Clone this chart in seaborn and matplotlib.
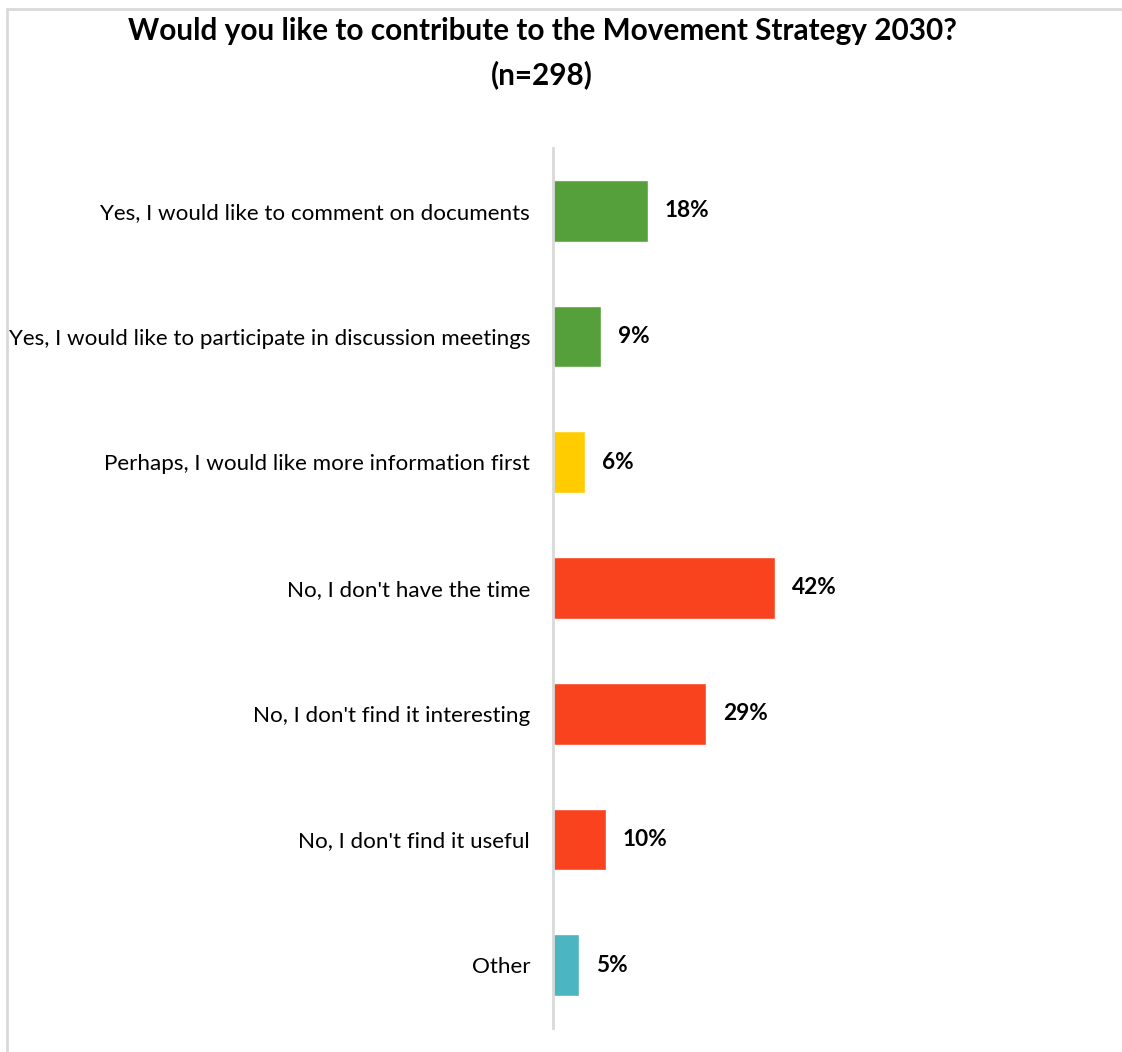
import matplotlib
matplotlib.use("Agg")
import pandas as pd
import matplotlib.pyplot as plt
import seaborn as sns
from matplotlib.lines import Line2D

# data
categories = [
    "Yes, I would like to comment on documents",
    "Yes, I would like to participate in discussion meetings",
    "Perhaps, I would like more information first",
    "No, I don't have the time",
    "No, I don't find it interesting",
    "No, I don't find it useful",
    "Other",
]
percent = [18, 9, 6, 42, 29, 10, 5]
bar_colors = ["#55A03A", "#55A03A", "#FFCC00", "#F9431F", "#F9431F", "#F9431F", "#4BB5C1"]
title = "Would you like to contribute to the Movement Strategy 2030?\n(n=298)"

df = pd.DataFrame({"answer": categories, "pct": percent})

sns.set_style("white")
plt.rcParams["font.family"] = ["Lato", "DejaVu Sans"]
plt.rcParams["text.color"] = "black"

W, H = 1122, 1052
fig = plt.figure(figsize=(W / 100, H / 100), dpi=100)
ax = fig.add_axes([553 / W, 1 - 1028 / H, (1100 - 553) / W, (1028 - 148) / H])

sns.barplot(data=df, x="pct", y="answer", hue="answer", palette=bar_colors,
            orient="h", width=0.49, legend=False, ax=ax, saturation=1)

ax.set_xlim(0, (1100 - 553) / 5.28)
ax.set_xlabel("")
ax.set_ylabel("")
ax.set_xticks([])
ax.tick_params(axis="y", length=0, pad=16.5, labelsize=16.1, labelcolor="black")
for s in ["top", "right", "bottom"]:
    ax.spines[s].set_visible(False)
ax.spines["left"].set_color("#d9d9d9")
ax.spines["left"].set_linewidth(2)

for p, v in zip(ax.patches, percent):
    ax.text(p.get_width() + 17 / 5.28, p.get_y() + p.get_height() / 2,
            f"{v}%", va="center", ha="left", fontsize=16.3, fontweight="bold",
            color="black")

fig.text(542 / W, 1 - 53 / H, title, ha="center", va="center",
         fontsize=21.4, fontweight="bold", linespacing=1.6, color="black")

# chart frame (only left and top visible)
fig.add_artist(Line2D([7 / W, 7 / W], [0, 1 - 9 / H], transform=fig.transFigure,
                      color="#d9d9d9", lw=2))
fig.add_artist(Line2D([7 / W, 1], [1 - 9 / H, 1 - 9 / H], transform=fig.transFigure,
                      color="#d9d9d9", lw=2))

fig.savefig("out.png", dpi=100, facecolor="white")
